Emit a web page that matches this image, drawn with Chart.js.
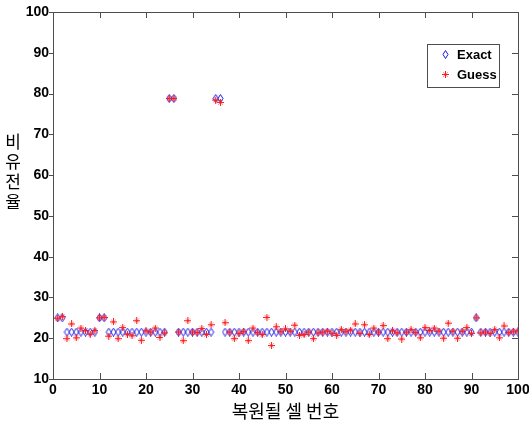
<!DOCTYPE html>
<html>
<head>
<meta charset="utf-8">
<script src="https://cdn.jsdelivr.net/npm/chart.js@4.4.1/dist/chart.umd.min.js"></script>
<style>
html, body { margin: 0; padding: 0; background: #fff; }
</style>
</head>
<body>
<canvas id="chart" width="529" height="428"></canvas>
<script>
// cell numbers (x)
var cellNo = [1, 2, 3, 4, 5, 6, 7, 8, 9, 10, 11, 12, 13, 14, 15, 16, 17, 18, 19, 20,
    21, 22, 23, 24, 25, 26, 27, 28, 29, 30, 31, 32, 33, 34, 35, 36, 37, 38, 39, 40,
    41, 42, 43, 44, 45, 46, 47, 48, 49, 50, 51, 52, 53, 54, 55, 56, 57, 58, 59, 60,
    61, 62, 63, 64, 65, 66, 67, 68, 69, 70, 71, 72, 73, 74, 75, 76, 77, 78, 79, 80,
    81, 82, 83, 84, 85, 86, 87, 88, 89, 90, 91, 92, 93, 94, 95, 96, 97, 98, 99, 100];

// exact permittivity per cell
var exactVals = [25, 25, 21.5, 21.5, 21.5, 21.5, 21.5, 21.5, 21.5, 25, 25, 21.5, 21.5, 21.5, 21.5, 21.5, 21.5, 21.5, 21.5, 21.5,
    21.5, 21.5, 21.5, 21.5, 78.8, 78.8, 21.5, 21.5, 21.5, 21.5, 21.5, 21.5, 21.5, 21.5, 78.8, 78.8, 21.5, 21.5, 21.5, 21.5,
    21.5, 21.5, 21.5, 21.5, 21.5, 21.5, 21.5, 21.5, 21.5, 21.5, 21.5, 21.5, 21.5, 21.5, 21.5, 21.5, 21.5, 21.5, 21.5, 21.5,
    21.5, 21.5, 21.5, 21.5, 21.5, 21.5, 21.5, 21.5, 21.5, 21.5, 21.5, 21.5, 21.5, 21.5, 21.5, 21.5, 21.5, 21.5, 21.5, 21.5,
    21.5, 21.5, 21.5, 21.5, 21.5, 21.5, 21.5, 21.5, 21.5, 21.5, 25, 21.5, 21.5, 21.5, 21.5, 21.5, 21.5, 21.5, 21.5, 21.5];

// reconstructed (guess) permittivity per cell
var guessVals = [24.9, 25.3, 19.9, 23.5, 20.1, 22.5, 21.9, 21.0, 21.9, 25.0, 25.1, 20.5, 24.0, 19.9, 22.6, 21.0, 20.6, 24.3, 19.5, 21.8,
    21.5, 22.5, 20.2, 21.3, 78.8, 78.8, 21.5, 19.4, 24.3, 21.5, 21.4, 22.4, 20.9, 23.3, 78.4, 77.8, 23.8, 21.5, 19.9, 21.2,
    21.6, 19.4, 22.5, 21.4, 20.9, 25.1, 18.2, 22.8, 21.6, 22.3, 21.7, 23.2, 20.7, 20.9, 21.5, 19.9, 21.3, 21.5, 21.7, 21.2,
    20.7, 22.1, 21.6, 22.0, 23.5, 21.2, 23.3, 20.9, 22.5, 21.5, 23.1, 19.9, 21.8, 21.3, 19.8, 21.5, 22.1, 21.4, 20.1, 22.6,
    21.9, 22.5, 21.7, 20.0, 23.7, 21.7, 20.0, 21.7, 22.6, 21.2, 25.0, 21.3, 21.5, 21.2, 22.1, 20.1, 23.0, 21.4, 21.6, 21.8];

var seriesNames = ['Exact', 'Guess'];
var xTitle = '복원될 셀 번호';
var yTitle = ['비', '유', '전', '율'];

var axisColor = '#4d4d4d';
var exactColor = '#1a1ae6';
var guessColor = '#ff1a1a';
var tickFont = "'Liberation Sans', Arial, sans-serif";
var koFont = "'Noto Sans CJK KR', sans-serif";

function toPoints(xs, ys) {
    var out = [];
    for (var i = 0; i < xs.length; i++) out.push({ x: xs[i], y: ys[i] });
    return out;
}

// tall hollow diamond like matlab's 'd' marker
function makeDiamond(color) {
    var c = document.createElement('canvas');
    c.width = 7; c.height = 9;
    var g = c.getContext('2d');
    g.strokeStyle = color;
    g.lineWidth = 1;
    g.beginPath();
    g.moveTo(3.5, 0.5);
    g.lineTo(6, 4.5);
    g.lineTo(3.5, 8.5);
    g.lineTo(1, 4.5);
    g.closePath();
    g.stroke();
    return c;
}

// asterisk marker, mostly a plus
function makeStar(color) {
    var c = document.createElement('canvas');
    c.width = 7; c.height = 7;
    var g = c.getContext('2d');
    g.strokeStyle = color;
    g.lineWidth = 1;
    g.beginPath();
    g.moveTo(3.5, 0); g.lineTo(3.5, 7);
    g.moveTo(0, 3.5); g.lineTo(7, 3.5);
    g.stroke();
    g.globalAlpha = 0.45;
    g.beginPath();
    g.moveTo(1, 1); g.lineTo(6, 6);
    g.moveTo(6, 1); g.lineTo(1, 6);
    g.stroke();
    return c;
}

var diamondImg = makeDiamond(exactColor);
var starImg = makeStar(guessColor);

var framePlugin = {
    id: 'frame',
    afterDraw: function(chart) {
        var ctx = chart.ctx, a = chart.chartArea;
        var xs = chart.scales.x, ys = chart.scales.y;
        ctx.save();
        ctx.strokeStyle = axisColor;
        ctx.lineWidth = 1;
        ctx.strokeRect(a.left + 0.5, a.top + 0.5, a.right - a.left, a.bottom - a.top);

        ctx.beginPath();
        xs.ticks.forEach(function(t) {
            var px = Math.round(xs.getPixelForValue(t.value)) + 0.5;
            ctx.moveTo(px, a.bottom); ctx.lineTo(px, a.bottom - 6);
            ctx.moveTo(px, a.top); ctx.lineTo(px, a.top + 6);
        });
        ys.ticks.forEach(function(t) {
            var py = Math.round(ys.getPixelForValue(t.value)) + 0.5;
            ctx.moveTo(a.left - 4, py); ctx.lineTo(a.left, py);
            ctx.moveTo(a.right, py); ctx.lineTo(a.right - 6, py);
        });
        ctx.stroke();

        // y title, stacked characters
        ctx.fillStyle = '#000';
        ctx.font = '17px ' + koFont;
        ctx.textAlign = 'center';
        ctx.textBaseline = 'middle';
        yTitle.forEach(function(ch, i) {
            ctx.fillText(ch, 13, 142 + i * 20);
        });

        // legend
        ctx.fillStyle = '#fff';
        ctx.fillRect(427, 44, 72, 43);
        ctx.strokeStyle = axisColor;
        ctx.strokeRect(427.5, 44.5, 72, 43);
        ctx.drawImage(diamondImg, 442, 50);
        ctx.drawImage(starImg, 442, 71);
        ctx.fillStyle = '#000';
        ctx.font = 'bold 13px ' + tickFont;
        ctx.textAlign = 'left';
        ctx.fillText(seriesNames[0], 457, 55);
        ctx.fillText(seriesNames[1], 457, 75);
        ctx.restore();
    }
};

new Chart(document.getElementById('chart'), {
    type: 'scatter',
    data: {
        datasets: [{
            label: seriesNames[1],
            data: toPoints(cellNo, guessVals),
            pointStyle: starImg,
            order: 0
        }, {
            label: seriesNames[0],
            data: toPoints(cellNo, exactVals),
            pointStyle: diamondImg,
            order: 1
        }]
    },
    options: {
        responsive: false,
        animation: false,
        layout: { padding: { left: 0, top: 12, right: 11, bottom: 0 } },
        plugins: {
            legend: { display: false },
            tooltip: { enabled: false }
        },
        scales: {
            x: {
                type: 'linear',
                min: 0, max: 100,
                grid: { display: false, drawTicks: false },
                border: { display: false },
                ticks: {
                    stepSize: 10,
                    padding: 3,
                    maxRotation: 0,
                    color: '#000',
                    font: { family: tickFont, size: 14, weight: 'bold' }
                },
                title: {
                    display: true,
                    text: xTitle,
                    color: '#000',
                    font: { family: koFont, size: 18 },
                    padding: { top: 0, bottom: 6 }
                },
                afterFit: function(s) { s.height = 49; s.paddingLeft = 0; s.paddingRight = 0; }
            },
            y: {
                min: 10, max: 100,
                grid: { display: false, drawTicks: false },
                border: { display: false },
                ticks: {
                    stepSize: 10,
                    padding: 4,
                    color: '#000',
                    font: { family: tickFont, size: 14, weight: 'bold' }
                },
                afterFit: function(s) { s.width = 53; s.paddingTop = 0; s.paddingBottom = 0; }
            }
        }
    },
    plugins: [framePlugin]
});
</script>
</body>
</html>
